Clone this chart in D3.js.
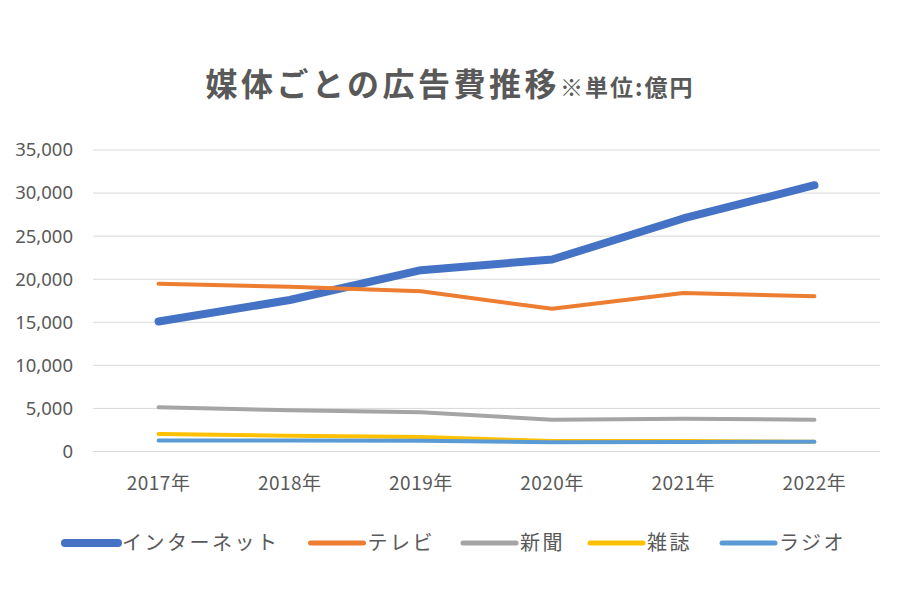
<!DOCTYPE html>
<html><head><meta charset="utf-8">
<script src="https://cdn.jsdelivr.net/npm/d3@7"></script>
<style>body{margin:0;background:#fff}svg{display:block}</style>
</head><body><svg id="c" width="900" height="600"></svg>
<script>
const years = ["2017年","2018年","2019年","2020年","2021年","2022年"];
const seriesNames = ["インターネット","テレビ","新聞","雑誌","ラジオ"];
const internet = [15094,17589,21048,22290,27052,30912];
const tv = [19478,19123,18612,16559,18393,18019];
const newspaper = [5147,4784,4547,3688,3815,3697];
const magazine = [2023,1841,1675,1223,1224,1140];
const radio = [1290,1278,1260,1066,1106,1129];
const yTicks = [0,5000,10000,15000,20000,25000,30000,35000];
const colors = ["#4472C4","#ED7D31","#A5A5A5","#FFC000","#5B9BD5"];
const widths = [8,4,4,4,4];
const allValues = [internet,tv,newspaper,magazine,radio];

(function(){
const svg = d3.select("#c");
const pLeft = 93, pRight = 880, pTop = 150, pBottom = 451.5;
const font = "'Noto Sans CJK JP','Noto Sans',sans-serif";

const x = d3.scaleBand().domain(years).range([pLeft,pRight]);
const y = d3.scaleLinear().domain([0,35000]).range([pBottom,pTop]);

svg.append("g").selectAll("line").data(yTicks).join("line")
  .attr("x1",pLeft).attr("x2",pRight)
  .attr("y1",d=>y(d)).attr("y2",d=>y(d))
  .attr("stroke","#d9d9d9").attr("stroke-width",1);

const yAxis = d3.axisLeft(y).tickValues(yTicks).tickFormat(d3.format(",")).tickSize(0).tickPadding(0);
const gy = svg.append("g").attr("transform",`translate(${pLeft-20},0)`).call(yAxis);
gy.select(".domain").remove();
gy.selectAll("text").attr("font-family","'Noto Sans',sans-serif").attr("font-size",18.5).attr("fill","#595959");

const xAxis = d3.axisBottom(x).tickSize(0).tickPadding(0);
const gx = svg.append("g").attr("transform",`translate(0,${pBottom+25})`).call(xAxis);
gx.select(".domain").remove();
gx.selectAll("text").attr("font-family",font).attr("font-size",19).attr("letter-spacing",0.5).attr("fill","#595959");

const line = d3.line().x((d,i)=>x(years[i])+x.bandwidth()/2).y(d=>y(d));
allValues.forEach((vals,k)=>{
  svg.append("path").datum(vals).attr("d",line)
    .attr("fill","none").attr("stroke",colors[k]).attr("stroke-width",widths[k])
    .attr("stroke-linecap","round").attr("stroke-linejoin","round");
});

const title = svg.append("text").attr("x",450).attr("y",96).attr("text-anchor","middle")
  .attr("font-family",font).attr("font-weight","bold").attr("fill","#595959");
title.append("tspan").attr("font-size",32).attr("letter-spacing",3.5).text("媒体ごとの広告費推移");
title.append("tspan").attr("font-size",23).attr("letter-spacing",2).text("※単位:億円");

const legY = 543;
const lg = svg.append("g");
let lx = 65;
const gaps = [31,28,25,30,0];
seriesNames.forEach((name,k)=>{
  lg.append("line").attr("x1",lx).attr("x2",lx+53).attr("y1",legY).attr("y2",legY)
    .attr("stroke",colors[k]).attr("stroke-width",k===0?8:5).attr("stroke-linecap","round");
  const t = lg.append("text").attr("x",lx+57).attr("y",legY+7)
    .attr("font-family",font).attr("font-size",20).attr("letter-spacing",2.5).attr("fill","#595959").text(name);
  lx = lx + 57 + t.node().getComputedTextLength() + gaps[k];
});
})();
</script></body></html>
